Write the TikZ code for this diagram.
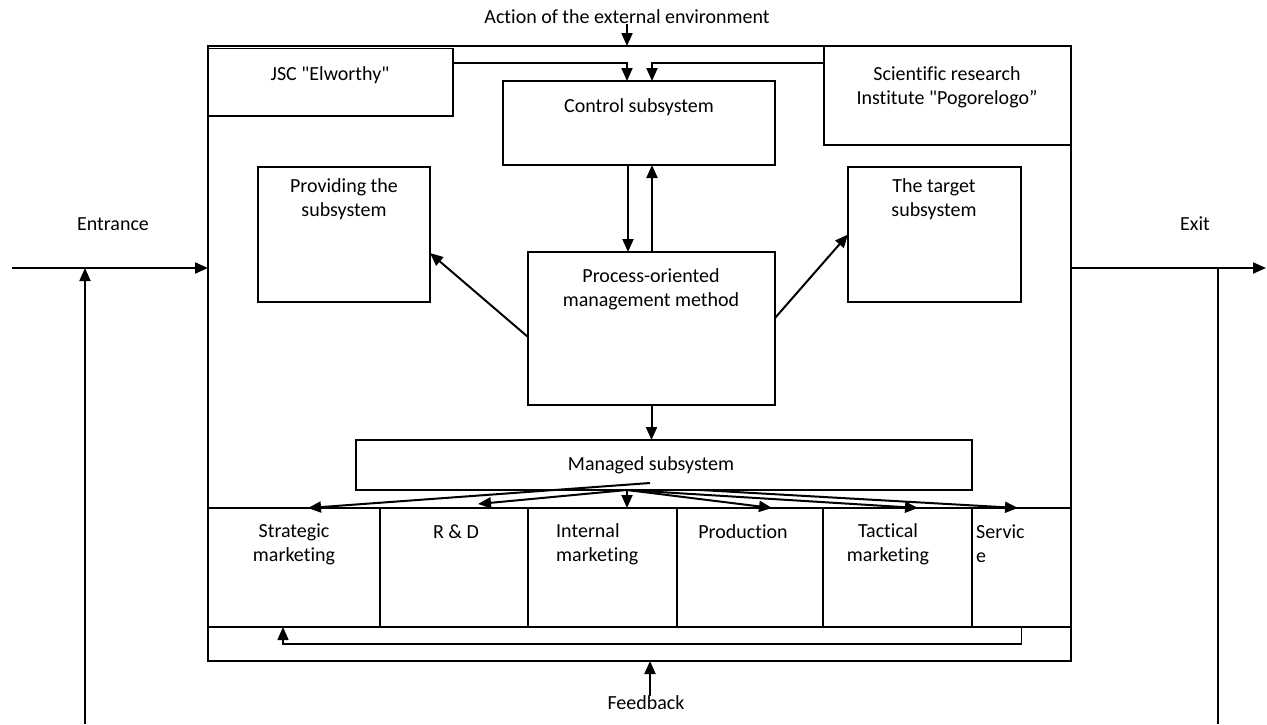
\documentclass[tikz,border=0pt]{standalone}
\usepackage{fontspec}
\newfontfamily\carl{Carlito}[Ligatures=NoCommon]
\usetikzlibrary{arrows.meta,calc}
\begin{document}
\begin{tikzpicture}[x=1pt,y=-1pt,
  box/.style={draw, line width=1.6pt, inner sep=0pt, outer sep=0pt},
  cell/.style={draw, line width=1.2pt, inner sep=0pt, outer sep=0pt},
  txt/.style={font=\carl\fontsize{20}{24}\selectfont, align=center, inner sep=0pt},
  arr/.style={line width=2pt, -{Triangle[length=13pt,width=11pt]}},
  thinarr/.style={line width=1.6pt, -{Triangle[length=13pt,width=11pt]}},
  ln/.style={line width=2pt}]
\useasboundingbox (0,0) rectangle (1267,724);
% boxes
\node[box, minimum width=863pt, minimum height=615pt] (outer) at (639.5,353.5) {};
\node[box, minimum width=245pt, minimum height=67.5pt] (jsc) at (330.5,82.25) {};
\node[box, minimum width=247pt, minimum height=99pt] (sci) at (947.5,95.5) {};
\node[box, minimum width=272pt, minimum height=84pt] (ctl) at (639,123) {};
\node[box, minimum width=172pt, minimum height=135pt] (prov) at (344,234.5) {};
\node[box, minimum width=173pt, minimum height=135pt] (tgt) at (934.5,234.5) {};
\node[box, minimum width=247pt, minimum height=153pt] (proc) at (651.5,328.5) {};
\node[box, minimum width=616pt, minimum height=50pt] (mgd) at (664,465) {};
\node[cell, minimum width=172pt, minimum height=119pt] (c1) at (294,567.5) {};
\node[cell, minimum width=148pt, minimum height=119pt] (c2) at (454,567.5) {};
\node[cell, minimum width=149pt, minimum height=119pt] (c3) at (602.5,567.5) {};
\node[cell, minimum width=146pt, minimum height=119pt] (c4) at (750,567.5) {};
\node[cell, minimum width=149pt, minimum height=119pt] (c5) at (897.5,567.5) {};
\node[cell, minimum width=99pt, minimum height=119pt] (c6) at (1021.5,567.5) {};
\draw[ln] (c1.north west) -- (c6.north east);
\draw[ln] (c1.south west) -- (c6.south east);
% texts
\node[txt] (act) at (627,17) {Action of the external environment};
\node[txt] (jsct) at (330,75) {JSC "Elworthy"};
\node[txt] (scit) at (947,87.5) {Scientific research\\Institute "Pogorelogo”};
\node[txt] (ctlt) at (639,107) {Control subsystem};
\node[txt] (provt) at (344,199) {Providing the\\subsystem};
\node[txt] (tgtt) at (934,199) {The target\\subsystem};
\node[txt] (proct) at (651,289) {Process-oriented\\management method};
\node[txt] (mgdt) at (651,465) {Managed subsystem};
\node[txt] (ent) at (113,224) {Entrance};
\node[txt] (ext) at (1195,224) {Exit};
\node[txt] (c1t) at (294,544) {Strategic\\marketing};
\node[txt] (c2t) at (456,532) {R \& D};
\node[txt, anchor=west, align=left] (c3t) at (556,544) {Internal\\marketing};
\node[txt] (c4t) at (743,532) {Production};
\node[txt] (c5t) at (888,544) {Tactical\\marketing};
\node[txt, anchor=west, align=left] (c6t) at (976,544) {Servic\\e};
\node[txt] (fb) at (646,703) {Feedback};
% top inputs
\draw[arr] (act.south) -- (act.south |- outer.north);
\coordinate (ca) at ([xshift=-12pt]ctl.north);
\coordinate (cb) at ([xshift=13pt]ctl.north);
\coordinate (jl) at (0,63);
\draw[arr] (jsc.east |- jl) -| (ca);
\draw[arr] (sci.west |- jl) -| (cb);
% control <-> process
\coordinate (d1) at ([xshift=-11pt]ctl.south);
\coordinate (u1) at ([xshift=13pt]ctl.south);
\draw[arr] (d1) -- (d1 |- proc.north);
\draw[arr] (u1 |- proc.north) -- (u1);
% diagonals
\draw[arr] ([yshift=-8.5pt]proc.west) -- ([yshift=-18.5pt]prov.east);
\draw[arr] ([yshift=10.5pt]proc.east) -- (tgt.west);
% process -> managed
\draw[arr] (proc.south) -- (proc.south |- mgd.north);
% managed fan
\coordinate (ms) at (627,490);
\coordinate (ms2) at (650,483);
\coordinate (ms3) at (700,490);
\draw[arr] (ms2) -- ([xshift=14pt]c1.north);
\draw[arr] (ms) -- ([xshift=24pt,yshift=4pt]c2.north);
\draw[arr] (ms) -- ([xshift=24.5pt]c3.north);
\draw[arr] (ms) -- ([xshift=22pt]c4.north);
\draw[arr] (ms) -- ([xshift=20.5pt]c5.north);
\draw[arr] (ms3) -- ([xshift=-3.5pt]c6.north);
% internal feedback
\coordinate (fbL) at ([xshift=-11pt]c1.south);
\draw[thinarr] (c6.south) -- ++(0,17) -| (fbL);
% feedback
\coordinate (fbs) at ([xshift=4pt]fb.north);
\draw[arr] (fbs) -- (fbs |- outer.south);
% entrance / exit
\coordinate (ein) at (12,268);
\coordinate (eb) at (85,724);
\draw[arr] (ein) -- (ein -| outer.west);
\draw[arr] (eb) -- (eb |- ein);
\coordinate (xo) at (1266,268);
\coordinate (xb) at (1218,724);
\draw[arr] (xo -| outer.east) -- (xo);
\draw[ln] (xb) -- (xb |- xo);
\end{tikzpicture}
\end{document}
